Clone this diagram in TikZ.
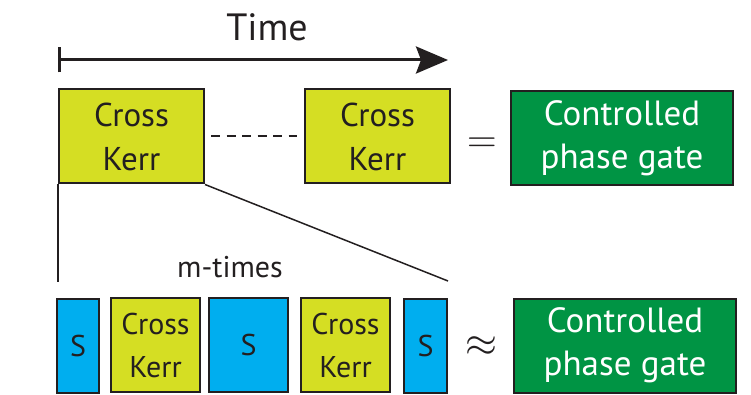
\documentclass[tikz,border=0pt]{standalone}
\usepackage{fontspec}
\setmainfont{PT Sans}
\usetikzlibrary{arrows.meta}
\definecolor{KerrYellow}{HTML}{D5DE23}
\definecolor{SwapBlue}{HTML}{00AEEF}
\definecolor{GateGreen}{HTML}{009444}
\definecolor{InkGray}{HTML}{231F20}
\tikzset{
	gatebox/.style={draw=InkGray, line width=2pt, inner sep=0pt, align=center, text=InkGray},
	kerrbox/.style={gatebox, fill=KerrYellow, minimum width=145pt, minimum height=94pt, font=\fontsize{33}{44}\selectfont},
	smallkerr/.style={gatebox, fill=KerrYellow, minimum width=89pt, minimum height=94pt, font=\fontsize{30}{43}\selectfont},
	swapbox/.style={gatebox, fill=SwapBlue, minimum height=94pt, font=\fontsize{30}{36}\selectfont},
	cpbox/.style={gatebox, fill=GateGreen, text=white, minimum width=222pt, minimum height=94pt, font=\fontsize{35}{43}\selectfont},
	relsign/.style={text=InkGray, inner sep=0pt, font=\fontsize{24}{24}\selectfont}
}
\begin{document}
\begin{tikzpicture}[x=1pt,y=-1pt]
	\useasboundingbox (0,0) rectangle (751,395);
	\def\ytop{136.5}  % top row
	\def\ybot{345.5}  % bottom row
	
	% time axis
	\coordinate (t0) at (58,60);
	\coordinate (t1) at (448,60);
	\draw[InkGray,line width=3pt,{Bar[width=25pt]}-{Stealth[length=32pt,width=27pt,inset=5pt]}] (t0) -- (t1);
	\node[text=InkGray,font=\fontsize{38}{38}\selectfont] (time) at (267,27) {Time};
	
	% top row
	\node[kerrbox] (ck1) at (131.5,\ytop) {Cross\\Kerr};
	\node[kerrbox] (ck2) at (377.5,\ytop) {Cross\\Kerr};
	\node[relsign] (eq) at (482,\ytop+9) {\scalebox{1.65}{$=$}};
	\node[cpbox] (cp1) at (622,138.5) {Controlled\\phase gate};
	\draw[InkGray,line width=2pt,dash pattern=on 9pt off 6.5pt,shorten <=6pt,shorten >=7pt] (ck1.east) -- (ck2.west);
	
	% zoom lines
	\coordinate (zl) at (58,282);
	\coordinate (zr) at (448,281);
	\draw[InkGray,line width=1.5pt] (ck1.south west) -- (zl);
	\draw[InkGray,line width=1.5pt] (ck1.south east) -- (zr);
	\node[text=InkGray,font=\fontsize{30}{30}\selectfont] (mt) at (230,267) {m-times};
	
	% bottom row
	\node[swapbox,minimum width=42pt] (s1) at (78,\ybot) {S};
	\node[smallkerr] (k1) at (155.5,345) {Cross\\Kerr};
	\node[swapbox,minimum width=79pt] (s2) at (248.5,345) {S};
	\node[smallkerr] (k2) at (345.5,345) {Cross\\Kerr};
	\node[swapbox,minimum width=43pt] (s3) at (425.5,\ybot) {S};
	\node[relsign] (ap) at (481,\ybot+1) {\scalebox{1.65}{$\approx$}};
	\node[cpbox] (cp2) at (625,\ybot) {Controlled\\phase gate};
	
\end{tikzpicture}
\end{document}
